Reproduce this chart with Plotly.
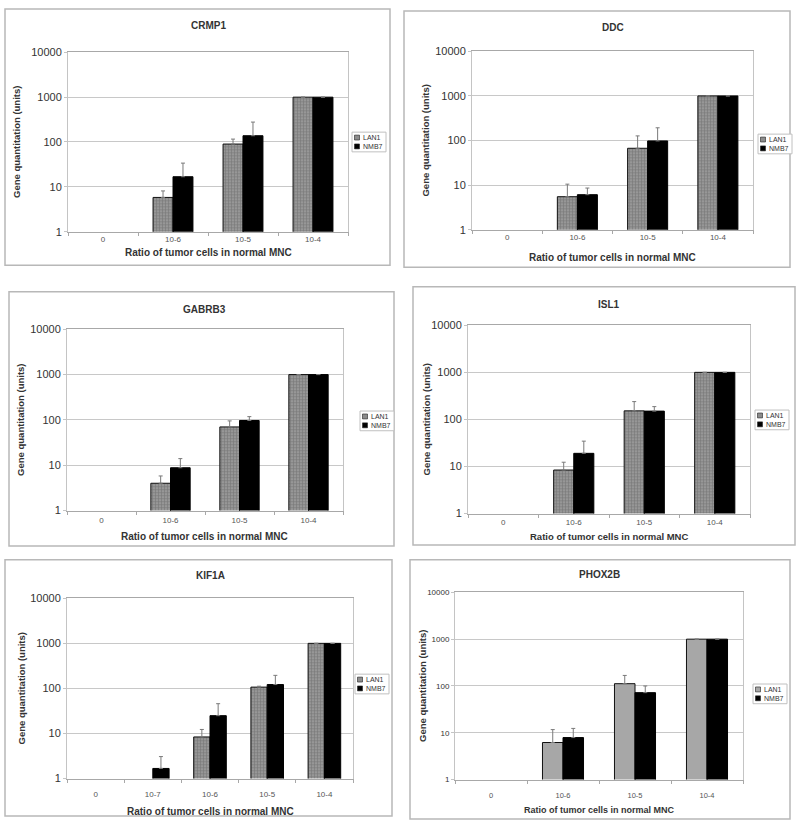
import plotly.graph_objects as go

# ---------------- data ----------------
cats4 = ["0", "10-6", "10-5", "10-4"]
cats5 = ["0", "10-7", "10-6", "10-5", "10-4"]
series_names = ["LAN1", "NMB7"]
ytick_vals = [1, 10, 100, 1000, 10000]
ytick_text = ["1", "10", "100", "1000", "10000"]

crmp1_lan1 = [None, 5.8, 90, 1000]
crmp1_lan1_err = [None, 2.3, 26, None]
crmp1_nmb7 = [None, 16.8, 138, 1000]
crmp1_nmb7_err = [None, 17, 140, None]

ddc_lan1 = [None, 5.5, 67, 1000]
ddc_lan1_err = [None, 5.0, 60, None]
ddc_nmb7 = [None, 6.1, 98, 1000]
ddc_nmb7_err = [None, 2.5, 95, None]

gabrb3_lan1 = [None, 4.0, 70, 1000]
gabrb3_lan1_err = [None, 1.8, 25, None]
gabrb3_nmb7 = [None, 8.8, 97, 1000]
gabrb3_nmb7_err = [None, 5.2, 21, None]

isl1_lan1 = [None, 8.4, 152, 1000]
isl1_lan1_err = [None, 3.9, 87, None]
isl1_nmb7 = [None, 19, 150, 1000]
isl1_nmb7_err = [None, 15.5, 37, None]

kif1a_lan1 = [None, None, 8.4, 107, 1000]
kif1a_lan1_err = [None, None, 3.9, 5, None]
kif1a_nmb7 = [None, 1.68, 24.9, 122, 1000]
kif1a_nmb7_err = [None, 1.4, 21, 73, None]

phox2b_lan1 = [None, 6.2, 112, 1000]
phox2b_lan1_err = [None, 5.5, 56, None]
phox2b_nmb7 = [None, 7.9, 72, 1000]
phox2b_nmb7_err = [None, 4.5, 28, None]

panels = [
    ("CRMP1", cats4, crmp1_lan1, crmp1_lan1_err, crmp1_nmb7, crmp1_nmb7_err),
    ("DDC", cats4, ddc_lan1, ddc_lan1_err, ddc_nmb7, ddc_nmb7_err),
    ("GABRB3", cats4, gabrb3_lan1, gabrb3_lan1_err, gabrb3_nmb7, gabrb3_nmb7_err),
    ("ISL1", cats4, isl1_lan1, isl1_lan1_err, isl1_nmb7, isl1_nmb7_err),
    ("KIF1A", cats5, kif1a_lan1, kif1a_lan1_err, kif1a_nmb7, kif1a_nmb7_err),
    ("PHOX2B", cats4, phox2b_lan1, phox2b_lan1_err, phox2b_nmb7, phox2b_nmb7_err),
]

# ---------------- layout (pixels) ----------------
W, H = 800, 826
geom = [
    dict(frame=(5, 3, 390, 263), plot=(68, 47, 348, 229), leg=(352, 128), ty=20, xty=250, yty=17,
         tick=11, xtick=8, xstand=0, xts=10, yts=9.5),
    dict(frame=(404, 5, 790, 265), plot=(472, 46, 753, 227), leg=(758, 130), ty=22, xty=255, yty=426,
         tick=11, xtick=8, xstand=0, xts=10, yts=9.5),
    dict(frame=(9, 290, 394, 548), plot=(67, 328, 343, 512), leg=(360, 411), ty=308, xty=538, yty=21,
         tick=11, xtick=8, xstand=2, xts=10, yts=9.5),
    dict(frame=(413, 285, 795, 547), plot=(468, 324, 750, 515), leg=(755, 410), ty=303, xty=538, yty=426,
         tick=11, xtick=8, xstand=1, xts=9.5, yts=9.5),
    dict(frame=(5, 562, 392, 822), plot=(67, 601, 353, 784), leg=(355, 678), ty=578, xty=817, yty=21,
         tick=11, xtick=8, xstand=8, xts=10, yts=9.5),
    dict(frame=(410, 562, 790, 825), plot=(455, 595, 743, 785), leg=(753, 688), ty=577, xty=816, yty=423,
         tick=8, xtick=7.5, xstand=8, xts=9, yts=9.5),
]

def px(x):
    return x / W

def py(y):
    return 1 - y / H

FONT = "Liberation Sans, Arial, sans-serif"
fig = go.Figure()
shapes = []
annotations = []

for i, (name, cats, lan, lan_e, nmb, nmb_e) in enumerate(panels):
    g = geom[i]
    n = i + 1
    xa = "x" if n == 1 else f"x{n}"
    ya = "y" if n == 1 else f"y{n}"
    light = name == "PHOX2B"
    lan_color = "#a7a7a7" if light else "#8c8c8c"
    lan_marker = dict(color=lan_color, line=dict(color="#111", width=1))
    if not light:
        lan_marker["pattern"] = dict(shape="+", size=3, solidity=0.35,
                                     fgcolor="#767676", bgcolor="#979797", fillmode="replace")
    fig.add_trace(go.Bar(
        x=cats, y=lan, name=series_names[0], xaxis=xa, yaxis=ya, showlegend=False,
        marker=lan_marker,
        error_y=dict(type="data", array=[e if e is not None else 0 for e in lan_e],
                     arrayminus=[0] * len(cats), symmetric=False,
                     color="#7a7a7a", thickness=1, width=2),
    ))
    fig.add_trace(go.Bar(
        x=cats, y=nmb, name=series_names[1], xaxis=xa, yaxis=ya, showlegend=False,
        marker=dict(color="#000000", line=dict(color="#000", width=1)),
        error_y=dict(type="data", array=[e if e is not None else 0 for e in nmb_e],
                     arrayminus=[0] * len(cats), symmetric=False,
                     color="#7a7a7a", thickness=1, width=2),
    ))
    x0, y0, x1, y1 = g["plot"]
    xkey = "xaxis" if n == 1 else f"xaxis{n}"
    ykey = "yaxis" if n == 1 else f"yaxis{n}"
    fig.update_layout(**{
        xkey: dict(domain=[px(x0), px(x1)], anchor=ya, type="category",
                   categoryorder="array", categoryarray=cats,
                   showline=True, mirror=True, linecolor="#a8a8a8", linewidth=1,
                   ticks="outside", ticklen=3, tickcolor="#a8a8a8", tickson="boundaries",
                   tickfont=dict(family=FONT, size=g["xtick"], color="#555"),
                   ticklabelstandoff=g["xstand"],
                   showgrid=False, zeroline=False, fixedrange=True),
        ykey: dict(domain=[py(y1), py(y0)], anchor=xa, type="log", range=[0, 4],
                   tickvals=ytick_vals, ticktext=ytick_text,
                   showline=True, mirror=True, linecolor="#c4c4c4", linewidth=1,
                   ticks="outside", ticklen=3, tickcolor="#c4c4c4",
                   tickfont=dict(family=FONT, size=g["tick"], color="#333"),
                   showgrid=True, gridcolor="#c8c8c8", gridwidth=1,
                   zeroline=False, fixedrange=True),
    })
    fx0, fy0, fx1, fy1 = g["frame"]
    shapes.append(dict(type="rect", xref="paper", yref="paper",
                       x0=px(fx0), y0=py(fy1), x1=px(fx1), y1=py(fy0),
                       line=dict(color="#b8b8b8", width=1.5), layer="below"))
    annotations.append(dict(text=f"<b>{name}</b>", xref="paper", yref="paper",
                            x=px((x0 + x1) / 2), y=py(g["ty"]), showarrow=False,
                            xanchor="center", yanchor="middle",
                            font=dict(family=FONT, size=10, color="#333")))
    annotations.append(dict(text="<b>Ratio of tumor cells in normal MNC</b>", xref="paper", yref="paper",
                            x=px((x0 + x1) / 2), y=py(g["xty"]), showarrow=False,
                            xanchor="center", yanchor="middle",
                            font=dict(family=FONT, size=g["xts"], color="#333")))
    annotations.append(dict(text="<b>Gene quantitation (units)</b>", xref="paper", yref="paper",
                            x=px(g["yty"]), y=py((y0 + y1) / 2), showarrow=False, textangle=-90,
                            xanchor="center", yanchor="middle",
                            font=dict(family=FONT, size=g["yts"], color="#333")))
    lx, ly = g["leg"]
    shapes.append(dict(type="rect", xref="paper", yref="paper",
                       x0=px(lx), y0=py(ly + 20), x1=px(lx + 34), y1=py(ly),
                       line=dict(color="#c0c0c0", width=1), fillcolor="white"))
    for k, (nm, col) in enumerate([(series_names[0], lan_color), (series_names[1], "#000")]):
        cy = ly + 5.5 + k * 9
        shapes.append(dict(type="rect", xref="paper", yref="paper",
                           x0=px(lx + 2.5), y0=py(cy + 2.5), x1=px(lx + 7.5), y1=py(cy - 2.5),
                           line=dict(color="#222", width=0.6), fillcolor=col))
        annotations.append(dict(text=nm, xref="paper", yref="paper",
                                x=px(lx + 8.5), y=py(cy), showarrow=False,
                                xanchor="left", yanchor="middle",
                                font=dict(family=FONT, size=7, color="#333")))

fig.update_layout(
    width=W, height=H, margin=dict(l=0, r=0, t=0, b=0),
    paper_bgcolor="white", plot_bgcolor="white",
    barmode="group", bargap=0.43, bargroupgap=0,
    shapes=shapes, annotations=annotations, showlegend=False,
    font=dict(family=FONT),
)

fig.write_html("out.html", config={"displayModeBar": False},
               post_script="document.body.style.margin='0px';")
